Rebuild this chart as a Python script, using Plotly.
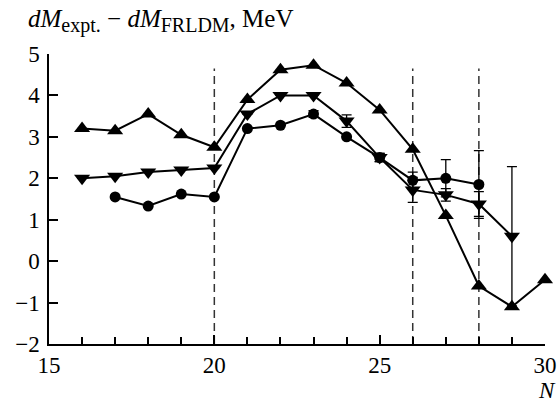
import plotly.graph_objects as go

# Data
N_up = [16, 17, 18, 19, 20, 21, 22, 23, 24, 25, 26, 27, 28, 29, 30]
v_up = [3.2, 3.15, 3.55, 3.05, 2.75, 3.9, 4.62, 4.73, 4.3, 3.65, 2.7, 1.1, -0.6, -1.1, -0.45]

N_down = [16, 17, 18, 19, 20, 21, 22, 23, 24, 25, 26, 27, 28, 29]
v_down = [2.0, 2.05, 2.15, 2.2, 2.25, 3.55, 4.0, 4.0, 3.38, 2.5, 1.72, 1.6, 1.38, 0.6]
e_down = [0, 0, 0, 0, 0, 0, 0, 0, 0.15, 0.1, 0.3, 0.15, 0.3, 1.68]

N_circ = [17, 18, 19, 20, 21, 22, 23, 24, 25, 26, 27, 28]
v_circ = [1.55, 1.33, 1.62, 1.55, 3.2, 3.28, 3.55, 3.0, 2.5, 1.95, 2.0, 1.85]
e_circ = [0, 0, 0, 0, 0, 0, 0.08, 0, 0.1, 0.2, 0.45, 0.82]

magic_N = [20, 26, 28]
x_ticks = [15, 20, 25, 30]
y_ticks = [-2, -1, 0, 1, 2, 3, 4, 5]

FONT = "Liberation Serif"

fig = go.Figure()

for xv in magic_N:
    fig.add_shape(type="line", x0=xv, x1=xv, y0=-2, y1=4.65, xref="x", yref="y",
                  line=dict(color="#333", width=1.5, dash="8px,5px"), layer="below")

fig.add_trace(go.Scatter(x=N_up, y=v_up, mode="lines+markers",
                         line=dict(color="black", width=2),
                         marker=dict(symbol="triangle-up", size=14, color="black"),
                         cliponaxis=False, showlegend=False))
fig.add_trace(go.Scatter(x=N_down, y=v_down, mode="lines+markers",
                         line=dict(color="black", width=2),
                         marker=dict(symbol="triangle-down", size=14, color="black"),
                         error_y=dict(type="data", array=e_down, visible=True,
                                      color="black", thickness=1.3, width=5),
                         cliponaxis=False, showlegend=False))
fig.add_trace(go.Scatter(x=N_circ, y=v_circ, mode="lines+markers",
                         line=dict(color="black", width=2),
                         marker=dict(symbol="circle", size=11, color="black"),
                         error_y=dict(type="data", array=e_circ, visible=True,
                                      color="black", thickness=1.3, width=5),
                         cliponaxis=False, showlegend=False))

fig.update_xaxes(range=[15, 30], tickvals=x_ticks, ticktext=[str(t) for t in x_ticks],
                 ticks="inside", ticklen=9, tickwidth=1.5, tickcolor="black",
                 minor=dict(tickvals=list(range(16, 30)), ticks="inside", ticklen=7,
                            tickwidth=1.5, tickcolor="black"),
                 showline=True, linecolor="black", linewidth=1.5,
                 showgrid=False, zeroline=False, automargin=False,
                 tickfont=dict(family=FONT, size=23, color="black"))
fig.update_yaxes(range=[-2, 5], tickvals=y_ticks,
                 ticktext=[str(t).replace("-", "\u2212") for t in y_ticks],
                 ticks="inside", ticklen=9, tickwidth=1.5, tickcolor="black",
                 showline=True, linecolor="black", linewidth=1.5,
                 showgrid=False, zeroline=False, ticklabelstandoff=3, automargin=False,
                 tickfont=dict(family=FONT, size=23, color="black"))

SUB = '<sub><span style="font-size:20px">{}</span></sub>'
title = ("<i>dM</i>" + SUB.format("expt.") + " \u2212 <i>dM</i>" + SUB.format("FRLDM")
         + ", MeV")
fig.add_annotation(text=title,
                   xref="paper", yref="paper", x=-0.046, y=1.175,
                   xanchor="left", yanchor="top", showarrow=False,
                   font=dict(family=FONT, size=25, color="black"))
fig.add_annotation(text="<i>N</i>", xref="paper", yref="paper", x=1.004, y=-0.159,
                   xanchor="center", yanchor="middle", showarrow=False,
                   font=dict(family=FONT, size=23, color="black"))

fig.update_layout(width=560, height=400,
                  margin=dict(l=49, r=15, t=54, b=56),
                  plot_bgcolor="white", paper_bgcolor="white",
                  font=dict(family=FONT))

fig.write_html("out.html")
